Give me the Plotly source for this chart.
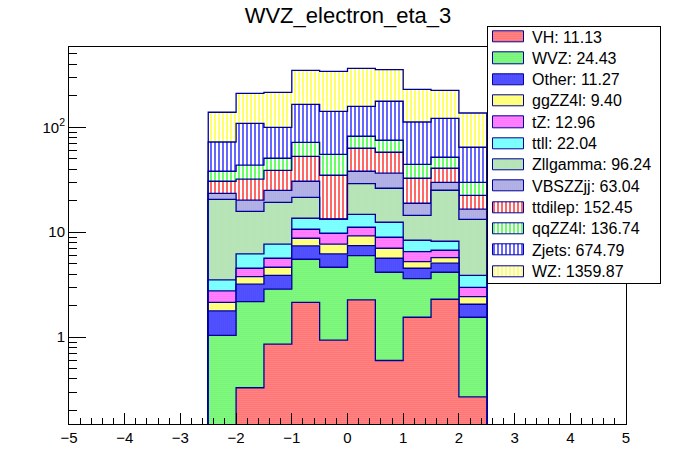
import numpy as np
import plotly.graph_objects as go

# 10 bins of electron eta between -2.5 and 2.5
bin_edges = [-2.5, -2.0, -1.5, -1.0, -0.5, 0.0, 0.5, 1.0, 1.5, 2.0, 2.5]

# stack order, bottom first (same as the legend)
processes = ["VH", "WVZ", "Other", "ggZZ4l", "tZ", "ttll", "Zllgamma",
             "VBSZZjj", "ttdilep", "qqZZ4l", "Zjets", "WZ"]
totals = [11.13, 24.43, 11.27, 9.40, 12.96, 22.04, 96.24, 63.04,
          152.45, 136.74, 674.79, 1359.87]

VH = [0.0, 0.33, 0.86, 2.15, 0.94, 2.27, 0.60, 1.55, 2.30, 0.27]
WVZ = [1.04, 1.85, 2.01, 3.38, 3.70, 3.72, 3.56, 2.06, 1.86, 1.28]
Other = [0.74, 1.02, 1.02, 1.88, 1.57, 1.46, 1.49, 0.93, 0.91, 0.51]
ggZZ4l = [0.37, 0.58, 0.75, 1.36, 1.48, 1.77, 1.39, 0.71, 0.66, 0.38]
tZ = [0.61, 0.76, 1.01, 1.91, 2.09, 1.94, 1.92, 1.28, 1.01, 0.55]
ttll = [0.75, 1.67, 2.04, 2.92, 3.52, 3.64, 3.49, 1.86, 1.47, 0.90]
Zllgamma = [17.1, 9.6, 11.6, 7.9, 0.0, 14.2, 13.8, 6.1, 16.9, 9.4]
VBSZZjj = [2.9, 4.4, 5.8, 9.1, 0.0, 9.1, 10.3, 4.4, 4.8, 3.3]
ttdilep = [7.1, 11.8, 13.8, 22.3, 21.6, 25.0, 21.3, 13.8, 10.8, 5.9]
qqZZ4l = [7.5, 11.5, 11.8, 19.0, 20.4, 19.0, 17.4, 11.7, 11.1, 7.4]
Zjets = [34.3, 65.6, 49.3, 93.7, 86.7, 76.4, 101.7, 67.9, 70.0, 34.6]
WZ = [66.6, 101.7, 115.4, 183.4, 199.5, 206.3, 176.8, 117.7, 103.2, 72.3]

hists = [VH, WVZ, Other, ggZZ4l, tZ, ttll, Zllgamma,
         VBSZZjj, ttdilep, qqZZ4l, Zjets, WZ]

ytickvals = [1, 10, 100]
yticktext = ["1", "10", "10<sup>2</sup>"]

# fill style per process: (colour, pattern shape, pattern size, solidity)
styles = {
    "VH": ("#ff0000", ".", 2, 0.6),
    "WVZ": ("#00ee00", ".", 2, 0.6),
    "Other": ("#0000ff", ".", 2, 0.65),
    "ggZZ4l": ("#ffff00", ".", 2, 0.6),
    "tZ": ("#ff00ff", ".", 2, 0.6),
    "ttll": ("#00ffff", ".", 2, 0.6),
    "Zllgamma": ("#44bb44", ".", 2, 0.4),
    "VBSZZjj": ("#3333bb", ".", 2, 0.4),
    "ttdilep": ("#ff0000", "|", 4, 0.3),
    "qqZZ4l": ("#00ff00", "|", 4, 0.3),
    "Zjets": ("#0000ff", "|", 4, 0.3),
    "WZ": ("#ffff00", "|", 4, 0.3),
}
edge = "#000099"
font = "Liberation Sans, Arial, Helvetica, sans-serif"

W, H = 696, 472
ml, mr, mt, mb = 69, 36, 20, 48
pw, ph = W - ml - mr, H - mt - mb


def fx(px):
    return (px - ml) / pw


def fy(py):
    return (H - mb - py) / ph


ymin, ymax = 0.149, 578
floor = ymin / 10

fig = go.Figure()

cum = np.cumsum(np.array(hists), axis=0)
edges = np.array(bin_edges)

# ROOT-like THStack: draw cumulative histograms, tallest first
for k in range(len(processes) - 1, -1, -1):
    name = processes[k]
    col, shp, sz, sol = styles[name]
    c = np.where(cum[k] > 0, cum[k], floor)
    xs = [edges[0]]
    ys = [floor]
    for i in range(len(c)):
        xs += [edges[i], edges[i + 1]]
        ys += [c[i], c[i]]
    xs.append(edges[-1])
    ys.append(floor)
    fig.add_trace(go.Scatter(
        x=xs, y=ys, mode="lines", fill="toself", fillcolor="white",
        fillpattern=dict(shape=shp, fgcolor=col, bgcolor="white", size=sz,
                         solidity=sol, fillmode="replace"),
        line=dict(color=edge, width=1.3), hoverinfo="skip",
        showlegend=False, xaxis="x", yaxis="y"))

# legend box drawn as its own small subplot
for i, name in enumerate(processes):
    col, shp, sz, sol = styles[name]
    fig.add_trace(go.Bar(
        x=[31], y=[i], base=[5], orientation="h", width=0.52,
        marker=dict(color="white", line=dict(color=edge, width=1),
                    pattern=dict(shape=shp, fgcolor=col, bgcolor="white",
                                 size=sz, solidity=sol, fillmode="replace")),
        showlegend=False, hoverinfo="skip", xaxis="x2", yaxis="y2"))
    fig.add_annotation(x=42, y=i, xref="x2", yref="y2", xanchor="left",
                       yanchor="middle", showarrow=False,
                       text=f"{name}: {totals[i]:.2f}",
                       font=dict(family=font, size=16, color="black"))

fig.update_layout(
    width=W, height=H,
    margin=dict(l=ml, r=mr, t=mt, b=mb),
    paper_bgcolor="white", plot_bgcolor="white",
    showlegend=False,
    font=dict(family=font, size=15, color="black"),
    title=dict(text="WVZ_electron_eta_3", x=348 / W, xanchor="center",
               y=1 - 15 / H, yref="container", yanchor="middle",
               font=dict(family=font, size=22, color="black")),
    xaxis=dict(domain=[0, fx(626)], range=[-5, 5], dtick=1, showgrid=False,
               zeroline=False, showline=True, mirror=True, linecolor="black",
               linewidth=1, ticks="inside", ticklen=11, tickcolor="black",
               minor=dict(ticks="inside", ticklen=6, dtick=0.2,
                          tickcolor="black", showgrid=False),
               anchor="y"),
    yaxis=dict(domain=[0, fy(47.3)], type="log",
               range=[np.log10(ymin), np.log10(ymax)],
               tickmode="array", tickvals=ytickvals, ticktext=yticktext,
               showgrid=False, zeroline=False, showline=True, mirror=True,
               linecolor="black", linewidth=1, ticks="inside", ticklen=17,
               tickcolor="black",
               minor=dict(ticks="inside", ticklen=8, dtick="D1",
                          tickcolor="black", showgrid=False),
               anchor="x"),
    xaxis2=dict(domain=[fx(488), fx(660)], range=[0, 172], visible=True,
                showticklabels=False, ticks="", showgrid=False,
                zeroline=False, showline=True, mirror=True,
                linecolor="black", linewidth=1, anchor="y2",
                fixedrange=True),
    yaxis2=dict(domain=[fy(283.3), fy(27.3)], range=[11.553, -0.455],
                showticklabels=False, ticks="", showgrid=False,
                zeroline=False, showline=True, mirror=True,
                linecolor="black", linewidth=1, anchor="x2",
                fixedrange=True),
    bargap=0,
)

# the page body has a default 8px margin; drop it so the figure sits at 0,0
fig.write_html("out.html", config={"displayModeBar": False},
               post_script="document.body.style.margin='0';")
